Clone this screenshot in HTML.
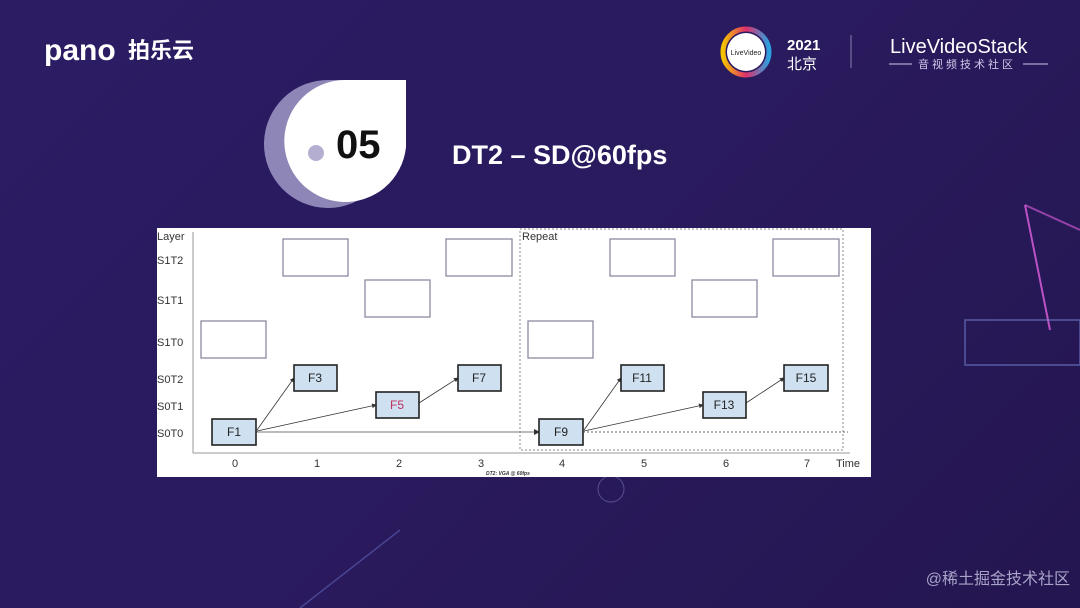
<!DOCTYPE html>
<html><head><meta charset="utf-8"><style>
html,body{margin:0;padding:0}
body{width:1080px;height:608px;overflow:hidden;background:linear-gradient(135deg,#2b1c64 0%,#2a1a5e 50%,#241650 100%);font-family:"Liberation Sans",sans-serif}
</style></head><body>
<svg width="1080" height="608" viewBox="0 0 1080 608" xmlns="http://www.w3.org/2000/svg" style="position:absolute;left:0;top:0">
<defs>
<marker id="ar" markerWidth="6" markerHeight="6" refX="5" refY="3" orient="auto"><path d="M0,0 L6,3 L0,6z" fill="#333"/></marker>
<linearGradient id="g"><stop offset="0" stop-color="#f5c400"/><stop offset="0.5" stop-color="#e0306a"/><stop offset="1" stop-color="#2aa0e0"/></linearGradient>
</defs>
<line x1="1025" y1="205" x2="1050" y2="330" stroke="#e060e0" stroke-width="2" opacity="0.8"/>
<line x1="1025" y1="205" x2="1080" y2="230" stroke="#e060e0" stroke-width="2" opacity="0.6"/>
<rect x="965" y="320" width="115" height="45" fill="none" stroke="#7a8ad8" stroke-width="1.5" opacity="0.6"/>
<line x1="300" y1="608" x2="400" y2="530" stroke="#6a70c8" stroke-width="1.5" opacity="0.5"/>
<circle cx="611" cy="489" r="13" fill="none" stroke="#8888cc" opacity="0.5"/>
<text x="44" y="60" fill="#fff" font-size="30" font-weight="bold">pano</text>
<text x="128" y="58" fill="#fff" font-size="22" font-weight="bold" font-family="Liberation Sans,Noto Sans CJK SC,sans-serif">拍乐云</text>
<circle cx="746" cy="52" r="23" fill="none" stroke="url(#g)" stroke-width="5"/>
<circle cx="746" cy="52" r="19" fill="#fff"/>
<text x="746" y="55" font-size="7" text-anchor="middle" fill="#222">LiveVideo</text>
<text x="787" y="50" fill="#fff" font-size="15" font-weight="bold">2021</text>
<text x="787" y="69" fill="#fff" font-size="15" font-family="Liberation Sans,Noto Sans CJK SC,sans-serif">北京</text>
<line x1="851" y1="35" x2="851" y2="68" stroke="#8a80b0"/>
<text x="890" y="53" fill="#fff" font-size="20">LiveVideoStack</text>
<text x="918" y="68" fill="#cfc8e8" font-size="11" letter-spacing="3" font-family="Liberation Sans,Noto Sans CJK SC,sans-serif">音视频技术社区</text>
<line x1="889" y1="64" x2="912" y2="64" stroke="#cfc8e8"/><line x1="1023" y1="64" x2="1048" y2="64" stroke="#cfc8e8"/>
<!-- badge -->
<path d="M330,80 L392,80 L392,144 A64,64 0 1 1 330,80 Z" fill="#8f86b8"/>
<path d="M345,80 L406,80 L406,147 A61,61 0 1 1 345,80 Z" fill="#fff"/>
<circle cx="316" cy="153" r="8" fill="#b4aed0"/>
<text x="336" y="158" font-size="40" font-weight="bold" fill="#111">05</text>
<text x="452" y="164" font-size="27" font-weight="bold" fill="#fff">DT2 – SD@60fps</text>
<rect x="157" y="228" width="714" height="249" fill="#fff"/>
<g fill="#333" font-size="11">
<text x="157" y="240">Layer</text>
<text x="157" y="264">S1T2</text><text x="157" y="304">S1T1</text><text x="157" y="346">S1T0</text>
<text x="157" y="383">S0T2</text><text x="157" y="410">S0T1</text><text x="157" y="437">S0T0</text>
<text x="235" y="467" text-anchor="middle">0</text><text x="317" y="467" text-anchor="middle">1</text>
<text x="399" y="467" text-anchor="middle">2</text><text x="481" y="467" text-anchor="middle">3</text>
<text x="562" y="467" text-anchor="middle">4</text><text x="644" y="467" text-anchor="middle">5</text>
<text x="726" y="467" text-anchor="middle">6</text><text x="807" y="467" text-anchor="middle">7</text>
<text x="836" y="467">Time</text>
<text x="522" y="240">Repeat</text>
<text x="486" y="475" font-size="5" font-style="italic" font-weight="bold">DT2: VGA @ 60fps</text>
</g>
<line x1="193" y1="232" x2="193" y2="453" stroke="#999"/>
<line x1="193" y1="453" x2="850" y2="453" stroke="#999"/>
<rect x="520" y="229" width="323" height="221" fill="none" stroke="#888" stroke-dasharray="2,2"/>
<line x1="583" y1="432" x2="848" y2="432" stroke="#666" stroke-dasharray="2,2"/>
<line x1="256" y1="432" x2="539" y2="432" stroke="#777" marker-end="url(#ar)"/>
<g fill="#fff" stroke="#8a8aa0" stroke-width="1.3">
<rect x="283" y="239" width="65" height="37"/><rect x="446" y="239" width="66" height="37"/>
<rect x="365" y="280" width="65" height="37"/><rect x="201" y="321" width="65" height="37"/>
<rect x="610" y="239" width="65" height="37"/><rect x="773" y="239" width="66" height="37"/>
<rect x="692" y="280" width="65" height="37"/><rect x="528" y="321" width="65" height="37"/>
</g>
<g stroke="#333" stroke-width="0.8" marker-end="url(#ar)">
<line x1="257" y1="430" x2="294" y2="378"/><line x1="257" y1="431" x2="376" y2="405"/><line x1="419" y1="403" x2="458" y2="378"/>
<line x1="584" y1="430" x2="621" y2="378"/><line x1="584" y1="431" x2="703" y2="405"/><line x1="746" y1="403" x2="784" y2="378"/>
</g>
<g fill="#cfe0f0" stroke="#222" stroke-width="1.6">
<rect x="212" y="419" width="44" height="26"/><rect x="294" y="365" width="43" height="26"/>
<rect x="376" y="392" width="43" height="26"/><rect x="458" y="365" width="43" height="26"/>
<rect x="539" y="419" width="44" height="26"/><rect x="621" y="365" width="43" height="26"/>
<rect x="703" y="392" width="43" height="26"/><rect x="784" y="365" width="44" height="26"/>
</g>
<g font-size="12" text-anchor="middle" fill="#222">
<text x="234" y="436">F1</text><text x="315" y="382">F3</text><text x="397" y="409" fill="#c03060">F5</text><text x="479" y="382">F7</text>
<text x="561" y="436">F9</text><text x="642" y="382">F11</text><text x="724" y="409">F13</text><text x="806" y="382">F15</text>
</g>
<text x="1070" y="584" fill="#a9a3c8" font-size="16" text-anchor="end" font-family="Liberation Sans,Noto Sans CJK SC,sans-serif">@稀土掘金技术社区</text>
</svg>
</body></html>
